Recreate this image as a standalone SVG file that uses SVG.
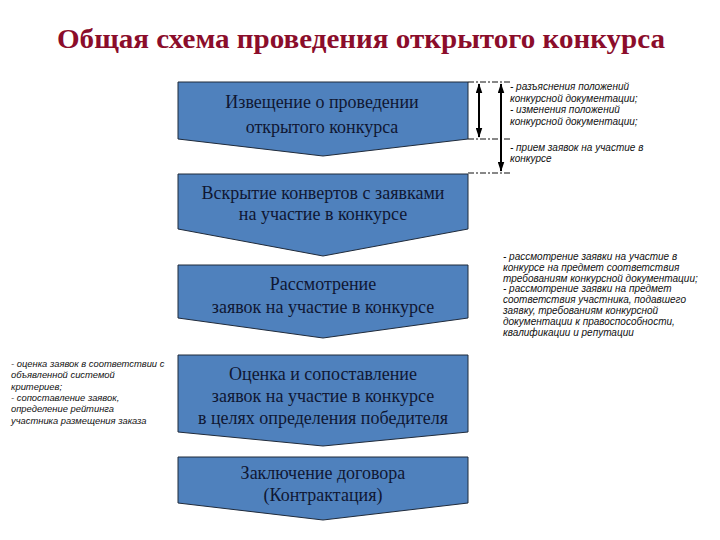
<svg xmlns="http://www.w3.org/2000/svg" width="720" height="540" viewBox="0 0 720 540">
<style>
.box{fill:#4f81bd;stroke:#1f2a3a;stroke-width:1}
.bt{font-family:"Liberation Serif","Times New Roman",serif;font-size:18px;fill:#0f1733;text-anchor:middle}
.note{font-family:"Liberation Sans",Arial,sans-serif;font-size:10px;font-style:italic;fill:#111}
.small{font-size:9.4px}
.title{font-family:"Liberation Serif","Times New Roman",serif;font-size:27px;font-weight:bold;fill:#8b0d2b;text-anchor:middle}
.dash{stroke:#111;stroke-width:1;stroke-dasharray:6,2,2,2;fill:none}
.arr{stroke:#000;stroke-width:2;fill:none;marker-start:url(#ah);marker-end:url(#ah)}
</style>
<defs>
<marker id="ah" viewBox="0 0 12 8" refX="11" refY="4" markerWidth="5" markerHeight="3.5" orient="auto-start-reverse" markerUnits="strokeWidth">
<path d="M0,0 L12,4 L0,8 Z" fill="#000"/>
</marker>
</defs>
<rect width="720" height="540" fill="#fff"/>
<text class="title" x="361" y="48" textLength="608" lengthAdjust="spacingAndGlyphs">Общая схема проведения открытого конкурса</text>

<g id="node1">
<path class="box" d="M178,82 H468 V139 L323,156 L178,139 Z"/>
<text class="bt" x="322" y="108">Извещение о проведении</text>
<text class="bt" x="322" y="133">открытого конкурса</text>
</g>
<g id="node2">
<path class="box" d="M178,174 H468 V229 L323,256 L178,229 Z"/>
<text class="bt" x="323" y="199">Вскрытие конвертов с заявками</text>
<text class="bt" x="323" y="220">на участие в конкурсе</text>
</g>
<g id="node3">
<path class="box" d="M178,265 H468 V318 L323,338 L178,318 Z"/>
<text class="bt" x="323" y="290">Рассмотрение</text>
<text class="bt" x="323" y="313">заявок на участие в конкурсе</text>
</g>
<g id="node4">
<path class="box" d="M178,355 H468 V432 L323,446 L178,432 Z"/>
<text class="bt" x="323" y="380">Оценка и сопоставление</text>
<text class="bt" x="323" y="402">заявок на участие в конкурсе</text>
<text class="bt" x="323" y="424">в целях определения победителя</text>
</g>
<g id="node5">
<path class="box" d="M178,457 H468 V503 L323,520 L178,503 Z"/>
<text class="bt" x="323" y="479">Заключение договора</text>
<text class="bt" x="323" y="501">(Контрактация)</text>
</g>

<g id="connectors">
<line class="dash" x1="468" y1="82" x2="512" y2="82"/>
<line class="dash" x1="468" y1="139" x2="512" y2="139"/>
<line class="dash" x1="468" y1="173" x2="512" y2="173"/>
<line class="arr" x1="479" y1="84" x2="479" y2="137"/>
<line class="arr" x1="501" y1="84" x2="501" y2="171"/>
</g>

<g id="note-top">
<text class="note" x="510" y="90">- разъяснения положений</text>
<text class="note" x="510" y="101.5">конкурсной документации;</text>
<text class="note" x="510" y="113">- изменения положений</text>
<text class="note" x="510" y="124.5">конкурсной документации;</text>
<text class="note" x="510" y="151">- прием заявок на участие в</text>
<text class="note" x="510" y="162">конкурсе</text>
</g>
<g id="note-right">
<text class="note" x="503" y="260">- рассмотрение заявки на участие в</text>
<text class="note" x="503" y="270.8">конкурсе на предмет соответствия</text>
<text class="note" x="503" y="281.6">требованиям конкурсной документации;</text>
<text class="note" x="503" y="292.4">- рассмотрение заявки на предмет</text>
<text class="note" x="503" y="303.2">соответствия участника, подавшего</text>
<text class="note" x="503" y="314">заявку, требованиям конкурсной</text>
<text class="note" x="503" y="324.8">документации к правоспособности,</text>
<text class="note" x="503" y="335.6">квалификации и репутации</text>
</g>
<g id="note-left">
<text class="note small" x="11" y="367">- оценка заявок в соответствии с</text>
<text class="note small" x="11" y="378.3">объявленной системой</text>
<text class="note small" x="11" y="389.6">критериев;</text>
<text class="note small" x="11" y="400.9">- сопоставление заявок,</text>
<text class="note small" x="11" y="412.2">определение рейтинга</text>
<text class="note small" x="11" y="423.5">участника размещения заказа</text>
</g>
</svg>
